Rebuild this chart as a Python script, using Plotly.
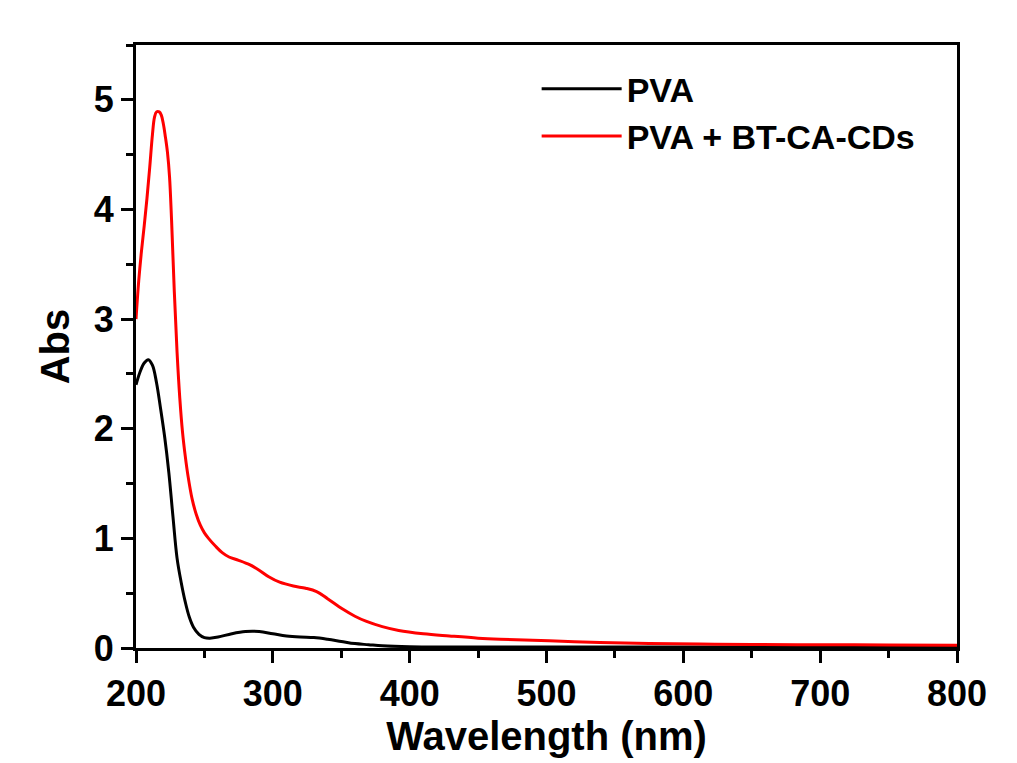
import plotly.graph_objects as go

# Wavelength (nm) and absorbance for each series
pva_wl = [200, 203, 206, 209, 212, 215, 218, 221, 224, 227, 230, 233, 236, 239, 242,
          246, 250, 254, 260, 270, 280, 290, 300, 310, 320, 330, 340, 350, 360, 370,
          380, 400, 450, 500, 600, 700, 800]
pva_abs = [2.40, 2.52, 2.60, 2.63, 2.58, 2.42, 2.18, 1.92, 1.60, 1.20, 0.82, 0.60, 0.42,
           0.28, 0.19, 0.125, 0.095, 0.09, 0.10, 0.13, 0.15, 0.15, 0.13, 0.11, 0.10,
           0.095, 0.08, 0.06, 0.04, 0.03, 0.02, 0.012, 0.01, 0.01, 0.009, 0.008, 0.008]

cd_wl = [200, 202, 204, 206, 208, 210, 212, 213.5, 215, 217, 218.5, 220, 221.5, 223,
         224.5, 226, 228, 230, 232, 234, 236, 238, 241, 244, 247, 250, 253, 258, 263,
         268, 275, 283, 290, 297, 305, 315, 324, 332, 340, 351, 360, 368, 380, 392,
         410, 429, 450, 466, 502, 539, 575, 612, 650, 700, 750, 800]
cd_abs = [3.00, 3.35, 3.62, 3.85, 4.10, 4.38, 4.68, 4.84, 4.89, 4.89, 4.86, 4.78, 4.66,
          4.52, 4.30, 3.90, 3.25, 2.70, 2.28, 1.97, 1.75, 1.57, 1.36, 1.22, 1.12, 1.05,
          1.00, 0.93, 0.87, 0.83, 0.80, 0.76, 0.71, 0.65, 0.60, 0.565, 0.545, 0.515, 0.45,
          0.355, 0.29, 0.245, 0.195, 0.16, 0.13, 0.11, 0.09, 0.08, 0.065, 0.05, 0.042,
          0.036, 0.032, 0.030, 0.028, 0.025]

series_names = ["PVA", "PVA + BT-CA-CDs"]
series_colors = ["#000000", "#ff0000"]

x_ticks = [200, 300, 400, 500, 600, 700, 800]
y_ticks = [0, 1, 2, 3, 4, 5]

FONT = "Liberation Sans, Arial, sans-serif"

fig = go.Figure()
for wl, ab, name, col in zip([pva_wl, cd_wl], [pva_abs, cd_abs], series_names, series_colors):
    fig.add_trace(go.Scatter(
        x=wl, y=ab, mode="lines", name=name,
        line=dict(color=col, width=3, shape="spline", smoothing=1.0),
    ))

axis_common = dict(
    showline=True, linecolor="black", linewidth=3, mirror=True,
    ticks="outside", ticklen=12, tickwidth=3, tickcolor="black",
    showgrid=False, zeroline=False,
    tickfont=dict(family=FONT, size=36, color="black", weight="bold"),
)

fig.update_layout(
    width=1017, height=763,
    margin=dict(l=136, r=60, t=45, b=115),
    paper_bgcolor="white", plot_bgcolor="white",
    font=dict(family=FONT, color="black", weight="bold"),
    xaxis=dict(
        range=[200, 800], tickvals=x_ticks,
        minor=dict(dtick=50, ticks="outside", ticklen=7, tickwidth=3, tickcolor="black"),
        title=dict(text="Wavelength (nm)", font=dict(family=FONT, size=40, weight="bold"), standoff=8),
        **axis_common,
    ),
    yaxis=dict(
        range=[0, 5.5], tickvals=y_ticks,
        minor=dict(dtick=0.5, ticks="outside", ticklen=7, tickwidth=3, tickcolor="black"),
        title=dict(text="Abs", font=dict(family=FONT, size=40, weight="bold"), standoff=12),
        **axis_common,
    ),
    legend=dict(
        x=0.488, y=0.975, xanchor="left", yanchor="top",
        bgcolor="rgba(0,0,0,0)", borderwidth=0,
        font=dict(family=FONT, size=34, color="black", weight="bold"),
        itemwidth=80, tracegroupgap=0,
    ),
    showlegend=True,
)

fig.write_html("out.html")
